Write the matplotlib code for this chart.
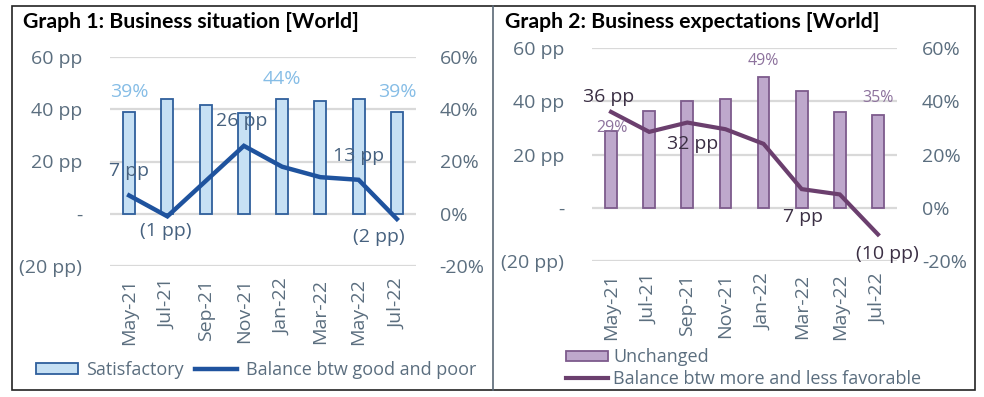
import matplotlib
matplotlib.use("Agg")
import matplotlib.pyplot as plt
from matplotlib.patches import Rectangle, Patch
from matplotlib.lines import Line2D
from matplotlib.ticker import FuncFormatter, FixedLocator

# ---------------- data ----------------
months = ["May-21", "Jul-21", "Sep-21", "Nov-21", "Jan-22", "Mar-22", "May-22", "Jul-22"]

satisfactory = [39, 44, 41.5, 38.5, 44, 43, 44, 39]          # % (bars, graph 1)
balance_good_poor = [7, -1, 12.5, 26, 18, 14, 13, -2]        # pp (line, graph 1)

unchanged = [29, 36.5, 40, 41, 49, 44, 36, 35]               # % (bars, graph 2)
balance_more_less = [36, 28.5, 32, 29.5, 24, 7, 5, -10]      # pp (line, graph 2)

left_ticks = [-20, 0, 20, 40, 60]
titles = ["Graph 1: Business situation [World]", "Graph 2: Business expectations [World]"]

# ---------------- style ----------------
W, H = 984, 397
FONT = "Open Sans"
plt.rcParams["font.family"] = [FONT, "DejaVu Sans"]
TICK_C = "#5b6e7f"
GRID_C = "#d9d9d9"
FS = 14

fig = plt.figure(figsize=(W / 100, H / 100), dpi=100)
fig.patch.set_facecolor("white")


def px_axes(x0, x1, ytop, ybot):
    return fig.add_axes([x0 / W, 1 - ybot / H, (x1 - x0) / W, (ybot - ytop) / H])


def pp_fmt(v, pos=None):
    if abs(v) < 1e-9:
        return "-"
    return f"{v:.0f} pp" if v > 0 else f"({-v:.0f} pp)"


def pct_fmt(v, pos=None):
    return f"{v:.0f}%"


def draw_panel(ax, bars, line, bar_fc, bar_ec, line_c, bar_lbl_c, bar_lbl_fs,
               line_lbl_c, line_lbl_idx, line_offsets, bar_lbl_idx, bar_offsets,
               lw, pad_l, pad_r):
    x = list(range(len(months)))
    ax.set_xlim(-0.5, len(months) - 0.5)
    ax.set_ylim(-20, 60)
    for t in left_ticks:
        ax.axhline(t, color=GRID_C, lw=1.6, zorder=0)
    ax.bar(x, bars, width=0.31, color=bar_fc, edgecolor=bar_ec, linewidth=1.3, zorder=2)
    ax.plot(x, line, color=line_c, lw=lw, zorder=3, solid_joinstyle="miter")
    for s in ax.spines.values():
        s.set_visible(False)
    ax.yaxis.set_major_locator(FixedLocator(left_ticks))
    ax.yaxis.set_major_formatter(FuncFormatter(pp_fmt))
    ax.tick_params(axis="y", length=0, pad=pad_l, labelsize=FS, labelcolor=TICK_C)
    ax.set_xticks(x)
    ax.set_xticklabels(months, rotation=90, fontsize=FS, color=TICK_C)
    ax.tick_params(axis="x", length=0, pad=9)
    sec = ax.secondary_yaxis("right")
    sec.yaxis.set_major_locator(FixedLocator(left_ticks))
    sec.yaxis.set_major_formatter(FuncFormatter(pct_fmt))
    sec.tick_params(axis="y", length=0, pad=pad_r, labelsize=FS, labelcolor=TICK_C)
    sec.spines["right"].set_visible(False)
    for i, (dx, dy) in zip(line_lbl_idx, line_offsets):
        ax.annotate(pp_fmt(line[i]), (x[i], line[i]), xytext=(dx, dy),
                    textcoords="offset pixels", ha="center", va="center",
                    fontsize=FS, color=line_lbl_c, zorder=4)
    for i, (dx, dy) in zip(bar_lbl_idx, bar_offsets):
        ax.annotate(pct_fmt(bars[i]), (x[i], bars[i]), xytext=(dx, dy),
                    textcoords="offset pixels", ha="center", va="center",
                    fontsize=bar_lbl_fs, color=bar_lbl_c, zorder=4)


# ---------- panel 1 ----------
ax1 = px_axes(110, 416, 57, 266)
draw_panel(ax1, satisfactory, balance_good_poor,
           bar_fc="#c6e0f4", bar_ec="#2f5f9c", line_c="#1f539e",
           bar_lbl_c="#86bde6", bar_lbl_fs=FS, line_lbl_c="#46617f",
           line_lbl_idx=[0, 1, 3, 6, 7],
           line_offsets=[(0, 24), (-2, -15), (-2, 25), (0, 24), (-18, -18)],
           bar_lbl_idx=[0, 4, 7], bar_offsets=[(0, 20), (0, 20), (0, 20)],
           lw=3.2, pad_l=20, pad_r=17)
ax1.legend(handles=[Patch(facecolor="#c6e0f4", edgecolor="#2f5f9c", lw=1.3, label="Satisfactory"),
                    Line2D([], [], color="#1f539e", lw=3.2, label="Balance btw good and poor")],
           loc="center left", bbox_to_anchor=(36 / W, 1 - 370 / H), bbox_transform=fig.transFigure,
           ncol=2, frameon=False, fontsize=13, labelcolor=TICK_C, handlelength=2.3,
           handleheight=0.5, handletextpad=0.5, columnspacing=0.6, borderpad=0, borderaxespad=0)

# ---------- panel 2 ----------
ax2 = px_axes(592, 897, 48, 261)
draw_panel(ax2, unchanged, balance_more_less,
           bar_fc="#bea8cc", bar_ec="#7d5b8c", line_c="#6b3f6e",
           bar_lbl_c="#8d729d", bar_lbl_fs=11.5, line_lbl_c="#3b2f44",
           line_lbl_idx=[0, 2, 5, 7],
           line_offsets=[(-2, 15), (5, -21), (1, -28), (9, -20)],
           bar_lbl_idx=[0, 4, 7], bar_offsets=[(1, 3), (0, 16), (0, 17)],
           lw=3.0, pad_l=20, pad_r=18)
ax2.legend(handles=[Patch(facecolor="#bea8cc", edgecolor="#7d5b8c", lw=1.3, label="Unchanged"),
                    Line2D([], [], color="#6b3f6e", lw=3.0, label="Balance btw more and less favorable")],
           loc="center left", bbox_to_anchor=(566 / W, 1 - 368 / H), bbox_transform=fig.transFigure,
           ncol=1, frameon=False, fontsize=13, labelcolor=TICK_C, handlelength=2.3,
           handleheight=0.5, handletextpad=0.3, labelspacing=0.2, borderpad=0, borderaxespad=0)

# ---------- titles & frame ----------
fig.text(23 / W, 1 - 22 / H, titles[0], fontsize=15.3, fontweight="bold", color="black",
         va="center", ha="left", family=["Lato", "DejaVu Sans"])
fig.text(505 / W, 1 - 22 / H, titles[1], fontsize=15.3, fontweight="bold", color="black",
         va="center", ha="left", family=["Lato", "DejaVu Sans"])

fig.patches.append(Rectangle((12 / W, 1 - 390 / H), (975 - 12) / W, (390 - 6) / H,
                             transform=fig.transFigure, fill=False, edgecolor="#222222", lw=1.2))
fig.add_artist(Line2D([493 / W, 493 / W], [1 - 390 / H, 1 - 6 / H], transform=fig.transFigure,
                      color="#5a6876", lw=1.2))

fig.savefig("out.png", dpi=100, facecolor="white")
